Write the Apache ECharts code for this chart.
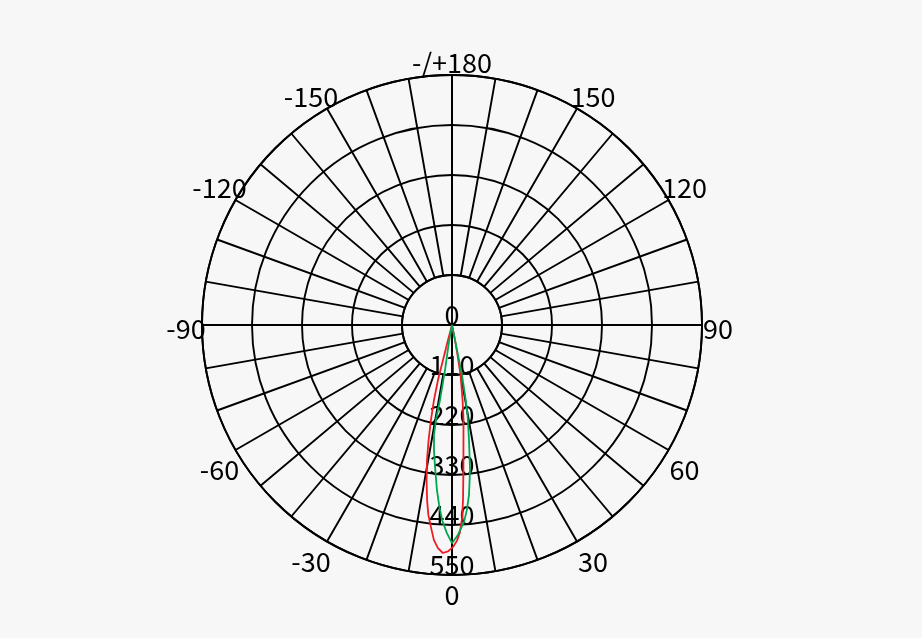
<!DOCTYPE html>
<html>
<head>
<meta charset="utf-8">
<script src="https://cdn.jsdelivr.net/npm/echarts@6/dist/echarts.min.js"></script>
<style>
html,body{margin:0;padding:0;background:#f7f7f7;}
#chart{width:922px;height:638px;}
</style>
</head>
<body>
<div id="chart"></div>
<script>
// Radius axis (intensity) ticks
const radiusMax = 550;
const radiusStep = 110;
// Angle axis: 0..360, shown as -180..180
const angleStep = 10;
const angleLabelStep = 30;

// Red curve: angle (deg, negative = left side) and intensity
const redAngles = [-15, -14.9, -14.4, -14.3, -13.5, -12.5, -11.5, -10.5, -9.3, -8.1, -7.1, -5.7, -4.8, -3.6, -2.3, -1.0, 0.3, 1.3, 2.2, 3.0, 3.6, 4.5, 5.7, 6.9, 8.0, 9.7, 10.4, 11.3, 11.3];
const redValues = [0, 34, 79, 125, 170, 214, 258, 302, 346, 389, 421, 453, 475, 492, 502, 498, 488, 475, 456, 425, 386, 320, 254, 211, 167, 112, 67, 34, 0];

// Green curve
const greenAngles = [-10, -9.9, -8.8, -9.1, -9.6, -9.3, -8.2, -6.8, -5.2, -4.1, -2.9, -1.4, 0, 1.6, 3.5, 4.6, 5.7, 7.1, 8.4, 9.8, 10.5, 11.3, 11.3, 11.3, 11.3];
const greenValues = [0, 45, 100, 167, 212, 245, 278, 315, 365, 397, 430, 458, 480, 462, 434, 408, 376, 321, 256, 201, 157, 112, 67, 34, 0];

function toPolar(angles, values) {
  return angles.map((a, i) => [values[i], a < 0 ? a + 360 : a]);
}

function angleLabel(v) {
  if (v % angleLabelStep !== 0) return '';
  let t;
  if (v === 180) t = '-/+180';
  else t = v > 180 ? String(v - 360) : String(v);
  return '{a|' + t + '}';
}

const FONT = 'Noto Sans CJK SC';
const FS = 27;
const black = '#000';
const LW = 1.9;

const chart = echarts.init(document.getElementById('chart'), null, {renderer: 'canvas'});
chart.setOption({
  backgroundColor: '#f7f7f7',
  animation: false,
  polar: [
    {center: [452, 325], radius: [0, 250]},
    {center: [452, 325], radius: [50, 250]}
  ],
  angleAxis: [
    {
      polarIndex: 0, type: 'value', min: 0, max: 360, interval: 90,
      startAngle: 270, clockwise: false,
      axisLine: {show: false}, axisTick: {show: false}, axisLabel: {show: false},
      splitLine: {show: true, lineStyle: {color: black, width: LW}}
    },
    {
      polarIndex: 1, type: 'value', min: 0, max: 360, interval: angleStep,
      startAngle: 270, clockwise: false,
      axisLine: {show: true, lineStyle: {color: black, width: LW}},
      axisTick: {show: false},
      axisLabel: {
        show: true, formatter: angleLabel, color: black, fontSize: FS, fontFamily: FONT,
        margin: 0, padding: [8, 0, 0, 0],
        rich: {a: {width: 32, lineHeight: 24, align: 'center', fontSize: FS, fontFamily: FONT, color: black}}
      },
      splitLine: {show: true, lineStyle: {color: black, width: LW}}
    }
  ],
  radiusAxis: [
    {
      polarIndex: 0, type: 'value', min: 0, max: radiusMax, interval: radiusStep,
      axisLine: {show: true, lineStyle: {color: black, width: LW}},
      axisTick: {show: false},
      axisLabel: {show: true, color: black, fontSize: FS, fontFamily: FONT, margin: 0,
                  align: 'center', verticalAlign: 'bottom', lineHeight: 20},
      splitLine: {show: true, lineStyle: {color: black, width: LW}}
    },
    {
      polarIndex: 1, type: 'value', min: 0, max: 1, show: false,
      axisLine: {show: false}, axisLabel: {show: false}, splitLine: {show: false}, axisTick: {show: false}
    }
  ],
  series: [
    {
      type: 'line', coordinateSystem: 'polar', polarIndex: 0, name: 'C0',
      data: toPolar(redAngles, redValues), symbol: 'none', smooth: false,
      lineStyle: {color: '#ee1c25', width: 1.8}
    },
    {
      type: 'line', coordinateSystem: 'polar', polarIndex: 0, name: 'C90',
      data: toPolar(greenAngles, greenValues), symbol: 'none', smooth: false,
      lineStyle: {color: '#00a650', width: 1.8}
    }
  ]
});
</script>
</body>
</html>
